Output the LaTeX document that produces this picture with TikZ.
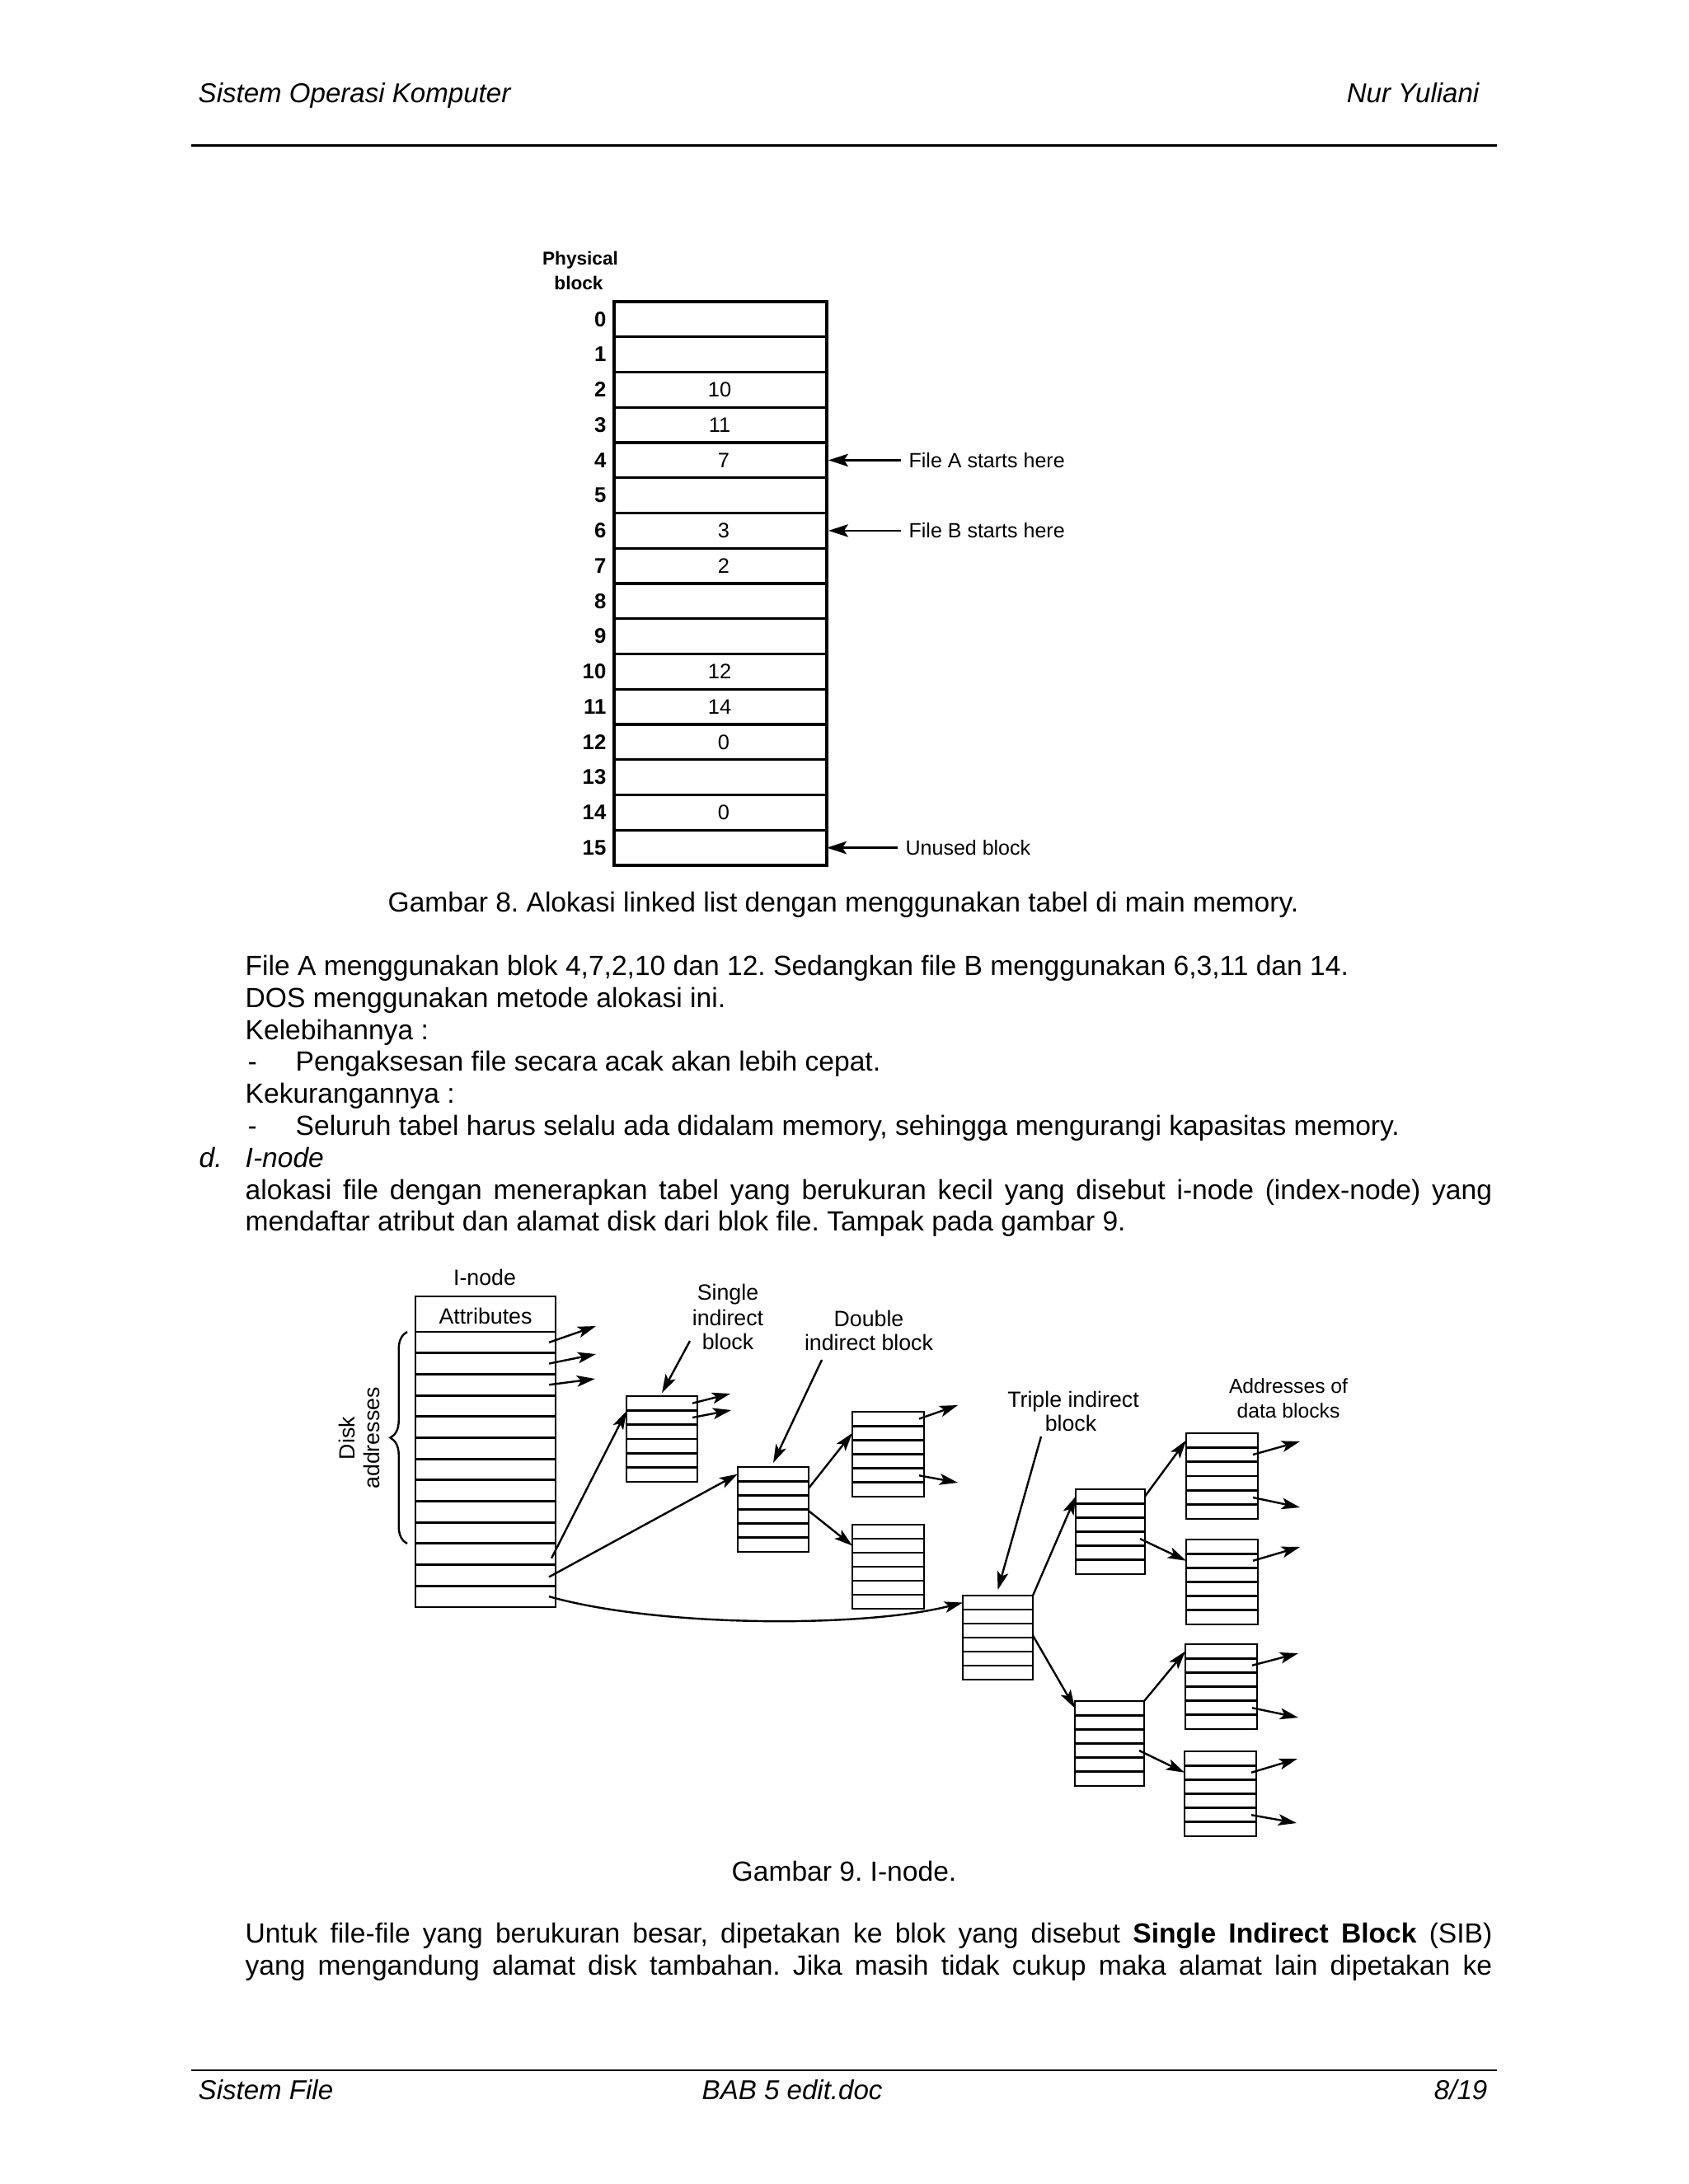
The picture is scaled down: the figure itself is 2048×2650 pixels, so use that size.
\documentclass[tikz,border=0pt]{standalone}
\usepackage{fontspec}
\setmainfont{Liberation Sans}
\usetikzlibrary{arrows.meta,decorations.pathreplacing,calc}
\frenchspacing
\newcommand{\rowblk}[5]{%
  \path (#2,#3) coordinate (#1-nw) (#4,#5) coordinate (#1-se)
        (#4,#3) coordinate (#1-ne) (#2,#5) coordinate (#1-sw);
  \draw[boxline] (#1-nw) rectangle (#1-se);
  \foreach \k in {1,...,5} \draw[boxline] ($(#1-nw)!\k/6!(#1-sw)$) -- ($(#1-ne)!\k/6!(#1-se)$);
  \foreach \k in {1,...,6} {
    \coordinate (#1-w\k) at ($(#1-nw)!{(\k-0.5)/6}!(#1-sw)$);
    \coordinate (#1-e\k) at ($(#1-ne)!{(\k-0.5)/6}!(#1-se)+(-6,0)$);
  }
  \coordinate (#1-n) at ($(#1-nw)!0.5!(#1-ne)$);
}
\begin{document}
\frenchspacing
\begin{tikzpicture}[x=0.01025cm,y=-0.01025cm,
  txt/.style={inner sep=0pt, font=\fontsize{9.8}{12}\selectfont},
  itx/.style={inner sep=0pt, font=\fontsize{9.8}{12}\selectfont\itshape},
  hdr/.style={inner sep=0pt, font=\fontsize{9.65}{12}\selectfont\itshape},
  tbl/.style={line width=0.9pt},
  fnum/.style={inner sep=0pt, font=\fontsize{7.5}{8}\selectfont\bfseries},
  fval/.style={inner sep=0pt, font=\fontsize{7.4}{8}\selectfont},
  fhead/.style={inner sep=0pt, font=\fontsize{6.6}{8}\selectfont\bfseries},
  flbl/.style={inner sep=0pt, inner xsep=2.6pt, font=\fontsize{7.3}{8}\selectfont},
  arr8/.style={line width=0.7pt, -{Stealth[length=7pt,width=4.5pt,inset=1.5pt]}},
  boxline/.style={line width=0.85pt},
  arr9/.style={line width=0.7pt, -{Stealth[length=6.5pt,width=4pt,inset=1.5pt]}},
  l9/.style={inner sep=0pt, font=\fontsize{7.8}{9}\selectfont},
  l9s/.style={inner sep=0pt, font=\fontsize{7.2}{9}\selectfont},
]
\useasboundingbox (0,0) rectangle (2048,2650);
\fill[white] (0,0) rectangle (2048,2650);

% ---------- header ----------
\node[hdr, anchor=base west] (h1) at (240,125) {Sistem Operasi Komputer};
\node[hdr, anchor=base east] (h2) at (1795,125) {Nur Yuliani};
\draw[line width=1.05pt] (232,176.5) coordinate (hl) -- (1816,176.5) coordinate (hr);

% ---------- figure 8 ----------
\node[fhead, anchor=base] (ph1) at (704,322) {Physical};
\node[fhead, anchor=base] (ph2) at (702,352) {block};
\draw[tbl] (745,366) rectangle (1003,1050);
\foreach \i in {1,...,15} \draw[tbl] (745,{366+\i*42.75}) -- (1003,{366+\i*42.75});
\foreach \i in {0,...,15} \node[fnum, anchor=east] (n\i) at (736,{366+(\i+0.5)*42.75}) {\i};
\foreach \i/\v/\x in {2/10/873,3/11/873,4/7/878,6/3/878,7/2/878,10/12/873,11/14/873,12/0/878,14/0/878}
  \node[fval] (v\i) at (\x,{366+(\i+0.5)*42.75}) {\v};
\coordinate (r4) at (1005,558.4);
\coordinate (r6) at (1005,643.9);
\coordinate (r15) at (1003,1028.6);
\node[flbl, anchor=west] (fa) at (1093,558.4) {File A starts here};
\node[flbl, anchor=west] (fb) at (1093,643.9) {File B starts here};
\node[flbl, anchor=west] (fu) at (1089,1028.6) {Unused block};
\draw[arr8] (fa.west) -- (r4);
\draw[arr8] (fb.west) -- (r6);
\draw[arr8] (fu.west) -- (r15);

\node[txt, anchor=base] (c8) at (1023,1106) {Gambar 8. Alokasi linked list dengan menggunakan tabel di main memory.};

% ---------- body text ----------
\node[txt, anchor=base west] (t1) at (297,1183) {File A menggunakan blok 4,7,2,10 dan 12. Sedangkan file B menggunakan 6,3,11 dan 14.};
\node[txt, anchor=base west] (t2) at (297,1222) {DOS menggunakan metode alokasi ini.};
\node[txt, anchor=base west] (t3) at (297,1261) {Kelebihannya :};
\node[txt, anchor=base west] (t4a) at (300,1299) {-};
\node[txt, anchor=base west] (t4) at (358,1299) {Pengaksesan file secara acak akan lebih cepat.};
\node[txt, anchor=base west] (t5) at (297,1338) {Kekurangannya :};
\node[txt, anchor=base west] (t6a) at (300,1377) {-};
\node[txt, anchor=base west] (t6) at (358,1377) {Seluruh tabel harus selalu ada didalam memory, sehingga mengurangi kapasitas memory.};
\node[itx, anchor=base west] (t7a) at (241,1416) {d.};
\node[itx, anchor=base west] (t7) at (297,1416) {I-node};
\node[txt, anchor=base west] (t8) at (297,1455) {\makebox[15.51cm][s]{alokasi file dengan menerapkan tabel yang berukuran kecil yang disebut i-node (index-node) yang}};
\node[txt, anchor=base west] (t9) at (297,1493) {mendaftar atribut dan alamat disk dari blok file. Tampak pada gambar 9.};

% ---------- figure 9 ----------
% i-node
\node[l9, anchor=base] (inlbl) at (588,1559) {I-node};
\draw[boxline] (504,1573) rectangle (674,1950);
\draw[boxline] (504,1616) -- (674,1616);
\foreach \k in {1,...,12} \draw[boxline] (504,{1616+\k*25.69}) -- (674,{1616+\k*25.69});
\node[l9, anchor=base] (attr) at (589,1606) {Attributes};
\foreach \k in {1,...,13} \coordinate (in\k) at (666,{1616+(\k-0.5)*25.69});
% brace
\coordinate (brb) at (494,1873);
\coordinate (brt) at (494,1616);
\draw[line width=0.7pt, decorate, decoration={brace, amplitude=6pt}] (brb) -- (brt);
\node[l9, rotate=90, align=center, font=\fontsize{7.8}{8.6}\selectfont] (disk) at (436,1745) {Disk\\addresses};
% direct arrows
\coordinate (d1) at (723,1609);
\coordinate (d2) at (723,1643);
\coordinate (d3) at (722,1673);
\draw[arr9] (in1) -- (d1);
\draw[arr9] (in2) -- (d2);
\draw[arr9] (in3) -- (d3);

% blocks
\rowblk{sib}{760}{1694}{846}{1798}
\rowblk{dib}{895}{1780}{981}{1883}
\rowblk{da}{1034}{1713}{1121}{1816}
\rowblk{db}{1034}{1850}{1121}{1952}
\rowblk{tib}{1168}{1936}{1253}{2038}
\rowblk{ta}{1305}{1807}{1389}{1910}
\rowblk{tb}{1304}{2064}{1388}{2167}
\rowblk{aa}{1439}{1739}{1526}{1843}
\rowblk{ab}{1439}{1868}{1526}{1971}
\rowblk{ac}{1438}{1995}{1525}{2098}
\rowblk{ad}{1437}{2125}{1524}{2228}

% labels
\node[l9, anchor=base] (sl1) at (883,1577) {Single};
\node[l9, anchor=base] (sl2) at (883,1608) {indirect};
\node[l9, anchor=base] (sl3) at (883,1637) {block};
\node[l9, anchor=base] (dl1) at (1054,1609) {Double};
\node[l9, anchor=base] (dl2) at (1054,1638) {indirect block};
\node[l9, anchor=base] (tl1) at (1302,1707) {Triple indirect};
\node[l9, anchor=base] (tl2) at (1299,1736) {block};
\node[l9s, anchor=base] (al1) at (1563,1690) {Addresses of};
\node[l9s, anchor=base] (al2) at (1563,1720) {data blocks};
\coordinate (sp) at (837,1627);
\coordinate (dp) at (997,1650);
\coordinate (tp) at (1263,1743);
\draw[arr9] (sp) -- ($(sib-n)+(0,-4)$);
\draw[arr9] (dp) -- ($(dib-n)+(0,-5)$);
\draw[arr9] (tp) -- ($(tib-n)+(0,-7)$);

% i-node indirect pointers
\draw[arr9] ($(in11)+(3,5)$) -- ($(sib-w1)!0.55!(sib-w2)$);
\draw[arr9] ($(in12)+(0,2)$) -- (dib-w1);
\draw[arr9] (in13) .. controls (800,1975) and (1050,1975) .. (tib-w1);

% single indirect outputs
\coordinate (s1) at (886,1691);
\coordinate (s2) at (887,1711);
\draw[arr9] (sib-e1) -- (s1);
\draw[arr9] (sib-e2) -- (s2);

% double indirect
\draw[arr9] ($(dib-e2)+(6,0)$) -- (da-w2);
\draw[arr9] ($(dib-e3)!0.6!(dib-e4)+(6,0)$) -- (db-w2);
\coordinate (da1) at (1162,1705);
\coordinate (da2) at (1162,1799);
\draw[arr9] (da-e1) -- (da1);
\draw[arr9] (da-e5) -- (da2);

% triple indirect
\draw[arr9] (tib-ne) -- (ta-w1);
\draw[arr9] ($(tib-e3)!0.35!(tib-e4)+(6,0)$) -- (tb-w1);
\draw[arr9] ($(ta-e1)+(6,0)$) -- (aa-w1);
\draw[arr9] (ta-e4) -- (ab-w2);
\draw[arr9] (tb-ne) -- (ac-w1);
\draw[arr9] (tb-e4) -- (ad-w2);

% data address outputs
\coordinate (o1) at (1577,1749);
\coordinate (o2) at (1577,1829);
\coordinate (o3) at (1577,1877);
\coordinate (o4) at (1575,2006);
\coordinate (o5) at (1575,2084);
\coordinate (o6) at (1574,2134);
\coordinate (o7) at (1573,2212);
\draw[arr9] (aa-e2) -- (o1);
\draw[arr9] (aa-e5) -- (o2);
\draw[arr9] (ab-e2) -- (o3);
\draw[arr9] (ac-e2) -- (o4);
\draw[arr9] (ac-e5) -- (o5);
\draw[arr9] (ad-e2) -- (o6);
\draw[arr9] (ad-e5) -- (o7);

\node[txt, anchor=base] (c9) at (1024,2282) {Gambar 9. I-node.};

% ---------- paragraph ----------
\node[txt, anchor=base west] (p1) at (297,2357) {\makebox[15.51cm][s]{Untuk file-file yang berukuran besar, dipetakan ke blok yang disebut \textbf{Single Indirect Block} (SIB)}};
\node[txt, anchor=base west] (p2) at (297,2396) {\makebox[15.51cm][s]{yang mengandung alamat disk tambahan. Jika masih tidak cukup maka alamat lain dipetakan ke}};

% ---------- footer ----------
\draw[line width=0.55pt] (232,2512) coordinate (fl) -- (1816,2512) coordinate (fr);
\node[hdr, anchor=base west] (f1) at (240,2547) {Sistem File};
\node[hdr, anchor=base west] (f2) at (851,2547) {BAB 5 edit.doc};
\node[hdr, anchor=base east] (f3) at (1805,2547) {8/19};
\end{tikzpicture}
\end{document}
